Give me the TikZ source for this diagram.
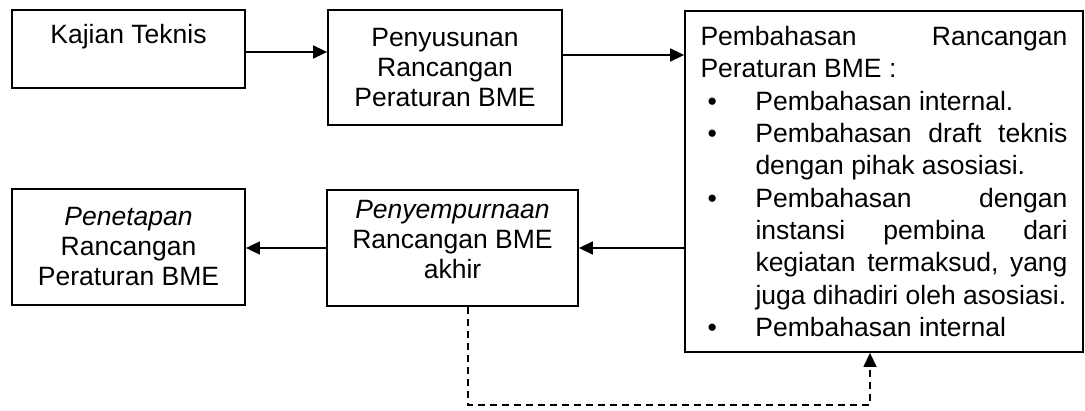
\documentclass[tikz,border=0pt]{standalone}
\usepackage{fontspec}
\setmainfont{Liberation Sans}
\usetikzlibrary{arrows.meta}

% width of the text block inside the discussion box
\newlength\ctw \setlength\ctw{367pt}
\newlength\bulind \setlength\bulind{55pt}
% one line of the discussion box: plain, bulleted, or continuing a bullet
\newcommand\fullrow[1]{\hbox to \ctw{#1}}
\newcommand\bulletrow[1]{\hbox to \ctw{\hbox to \bulind{\hspace{7pt}\textbullet\hfil}#1}}
\newcommand\indentrow[1]{\hbox to \ctw{\hspace{\bulind}#1}}

\begin{document}
\begin{tikzpicture}[x=1pt,y=1pt,
  box/.style={draw, line width=1.8pt, rectangle, inner sep=0pt, align=center,
              font=\fontsize{26.5}{30}\selectfont},
  flow/.style={line width=1.6pt, -{Triangle[length=14pt,width=13pt]}},
  back/.style={flow, line width=1.4pt, dash pattern=on 7pt off 5pt}]
\useasboundingbox (0,0) rectangle (1085,410);

\node[box, minimum width=233pt, minimum height=78pt] (A) at (128.5,361)
  {Kajian Teknis\\\mbox{}};
\node[box, minimum width=234pt, minimum height=115pt] (B) at (445,342.5)
  {Penyusunan\\Rancangan\\Peraturan BME};
\node[box, minimum width=398pt, minimum height=341pt,
      font=\fontsize{26.5}{32.3}\selectfont] (C) at (884,228.5)
  {\vbox{%
    \fullrow{Pembahasan\hfill Rancangan}
    \fullrow{Peraturan BME :\hfil}
    \bulletrow{Pembahasan internal.\hfil}
    \bulletrow{Pembahasan\hfill draft\hfill teknis}
    \indentrow{dengan pihak asosiasi.\hfil}
    \bulletrow{Pembahasan\hfill dengan}
    \indentrow{instansi\hfill pembina\hfill dari}
    \indentrow{kegiatan\hfill termaksud,\hfill yang}
    \indentrow{juga dihadiri oleh asosiasi.\hfil}
    \bulletrow{Pembahasan internal\hfil}}};
\node[box, minimum width=233pt, minimum height=116pt] (D) at (128.5,163)
  {\textit{Penetapan}\\Rancangan\\Peraturan BME};
\node[box, minimum width=251pt, minimum height=116pt] (E) at (452.5,162)
  {\textit{Penyempurnaan}\\Rancangan BME\\akhir\\[-12pt]\mbox{}};

\draw[flow] ([yshift=-3pt]A.east) -- ([yshift=-3pt]A.east -| B.west);
\draw[flow] ([yshift=12.5pt]B.east) -- ([yshift=12.5pt]B.east -| C.west);
\draw[flow] (C.west |- E.east) -- (E.east);
\draw[flow] (E.west) -- (E.west -| D.east);

% feedback loop from the final revision back to the discussion
\coordinate (s) at ([xshift=15.5pt]E.south);
\coordinate (t) at ([xshift=-14pt]C.south);
\coordinate (low) at (0,5);
\draw[back] (s) -- (s |- low) -- (t |- low) -- (t);
\end{tikzpicture}
\end{document}
